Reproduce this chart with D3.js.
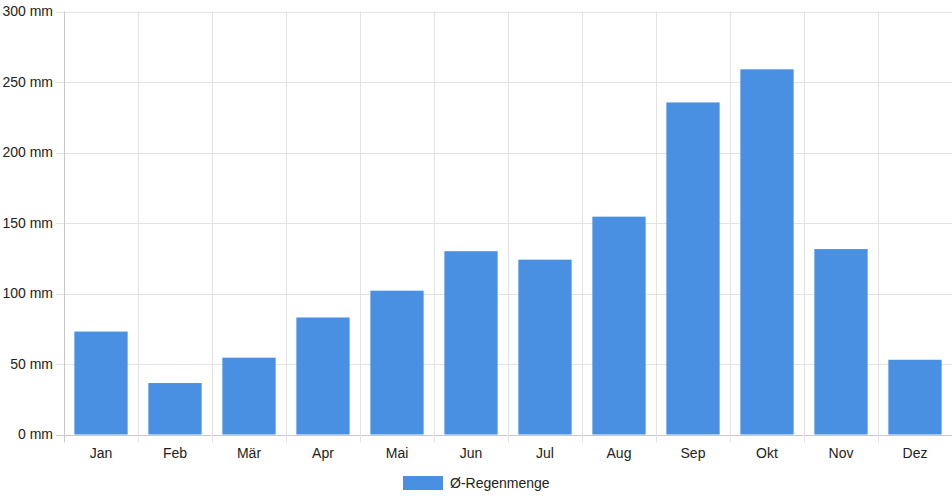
<!DOCTYPE html>
<html><head><meta charset="utf-8">
<script src="https://cdn.jsdelivr.net/npm/d3@7/dist/d3.min.js"></script>
<style>body{margin:0;background:#fff}svg{display:block;font-family:"Liberation Sans",Arial,sans-serif}</style>
</head><body><svg id="c" width="952" height="500"></svg>
<script>
const categories = ["Jan","Feb","Mär","Apr","Mai","Jun","Jul","Aug","Sep","Okt","Nov","Dez"];
const rain = [73, 36.5, 54.5, 83, 102, 130, 124, 154.5, 235.5, 259, 131.5, 53];
const yTicks = [0, 50, 100, 150, 200, 250, 300];
const seriesName = "Ø-Regenmenge";

(function () {
const svg = d3.select("#c");
const pLeft = 64, pRight = 952, pTop = 11.5, pBottom = 434.5;
const x = d3.scaleBand().domain(categories).range([pLeft, pRight]);
const y = d3.scaleLinear().domain([0, 300]).range([pBottom, pTop]);

// horizontal grid
svg.append("g").selectAll("line").data(yTicks).join("line")
  .attr("x1", pLeft - 8).attr("x2", pRight)
  .attr("y1", d => Math.round(y(d)) + 0.5).attr("y2", d => Math.round(y(d)) + 0.5)
  .attr("stroke", d => d === 0 ? "#c8c8c8" : "#e3e3e3").attr("stroke-width", 1);

// vertical grid (category boundaries)
const bounds = categories.map(c => x(c));
svg.append("g").selectAll("line").data(bounds).join("line")
  .attr("x1", d => Math.round(d) + 0.5).attr("x2", d => Math.round(d) + 0.5)
  .attr("y1", pTop).attr("y2", pBottom + 8)
  .attr("stroke", (d, i) => i === 0 ? "#c8c8c8" : "#e3e3e3").attr("stroke-width", 1);

// bars
const bw = x.bandwidth() * 0.72;
svg.append("g").selectAll("rect").data(rain).join("rect")
  .attr("x", (d, i) => x(categories[i]) + (x.bandwidth() - bw) / 2)
  .attr("width", bw)
  .attr("y", d => y(d))
  .attr("height", d => y(0) - y(d))
  .attr("fill", "#4a90e2");

// y labels
svg.append("g").selectAll("text").data(yTicks).join("text")
  .attr("x", 53).attr("y", d => y(d)).attr("dy", "0.35em")
  .attr("text-anchor", "end").attr("font-size", 14).attr("fill", "#222")
  .text(d => d + " mm");

// x labels
svg.append("g").selectAll("text").data(categories).join("text")
  .attr("x", d => x(d) + x.bandwidth() / 2).attr("y", 458)
  .attr("text-anchor", "middle").attr("font-size", 14).attr("fill", "#222")
  .text(d => d);

// legend
svg.append("rect").attr("x", 403).attr("y", 476).attr("width", 40).attr("height", 14).attr("fill", "#4a90e2");
svg.append("text").attr("x", 450).attr("y", 487.5).attr("font-size", 14).attr("fill", "#222").text(seriesName);
})();
</script></body></html>
